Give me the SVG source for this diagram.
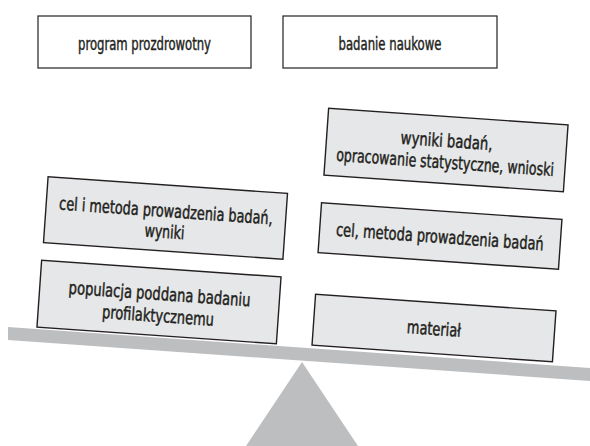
<svg xmlns="http://www.w3.org/2000/svg" width="590" height="446" viewBox="0 0 590 446">
<style>
.top{fill:#ffffff;stroke:#231f20;stroke-width:1.2}
.box{fill:#e6e7e8;stroke:#231f20;stroke-width:1.4}
.lbl{font-family:"DejaVu Sans Condensed","Liberation Sans Narrow","Liberation Sans",sans-serif;font-size:18px;fill:#231f20;stroke:#231f20;stroke-width:0.45;text-anchor:middle}
.gray{fill:#bcbec0}
</style>
<rect width="590" height="446" fill="#ffffff"/>
<g id="scale">
<polygon class="gray" points="302,362 246,446 358,446"/>
<polygon class="gray" points="8,327 590,368 590,381 8,340"/>
</g>
<g id="program-prozdrowotny">
<rect class="top" x="38" y="16" width="213" height="52"/>
<text class="lbl" x="144.5" y="50" textLength="133" lengthAdjust="spacingAndGlyphs">program prozdrowotny</text>
</g>
<g id="badanie-naukowe">
<rect class="top" x="283" y="16" width="214" height="52"/>
<text class="lbl" x="390" y="50" textLength="103" lengthAdjust="spacingAndGlyphs">badanie naukowe</text>
</g>
<g id="cel-i-metoda" transform="translate(165.5,218) rotate(4)">
<rect class="box" x="-120" y="-33" width="240" height="66"/>
<text class="lbl" x="0" y="-1" textLength="214" lengthAdjust="spacingAndGlyphs">cel i metoda prowadzenia badań,</text>
<text class="lbl" x="0" y="20" textLength="40" lengthAdjust="spacingAndGlyphs">wyniki</text>
</g>
<g id="populacja" transform="translate(159,302) rotate(4)">
<rect class="box" x="-120" y="-33.5" width="240" height="67"/>
<text class="lbl" x="0" y="-2" textLength="182" lengthAdjust="spacingAndGlyphs">populacja poddana badaniu</text>
<text class="lbl" x="0" y="20" textLength="112" lengthAdjust="spacingAndGlyphs">profilaktycznemu</text>
</g>
<g id="wyniki-badan" transform="translate(446,150) rotate(4)">
<rect class="box" x="-120" y="-33.5" width="240" height="67"/>
<text class="lbl" x="0" y="-3" textLength="92" lengthAdjust="spacingAndGlyphs">wyniki badań,</text>
<text class="lbl" x="0" y="18.5" textLength="218" lengthAdjust="spacingAndGlyphs">opracowanie statystyczne, wnioski</text>
</g>
<g id="cel-metoda" transform="translate(440,236) rotate(4)">
<rect class="box" x="-120.5" y="-25" width="241" height="50"/>
<text class="lbl" x="0" y="7" textLength="208" lengthAdjust="spacingAndGlyphs">cel, metoda prowadzenia badań</text>
</g>
<g id="material" transform="translate(434,328) rotate(4)">
<rect class="box" x="-120.5" y="-25.5" width="241" height="51"/>
<text class="lbl" x="0" y="7" textLength="54" lengthAdjust="spacingAndGlyphs">materiał</text>
</g>
<g id="connectors"></g>
</svg>
